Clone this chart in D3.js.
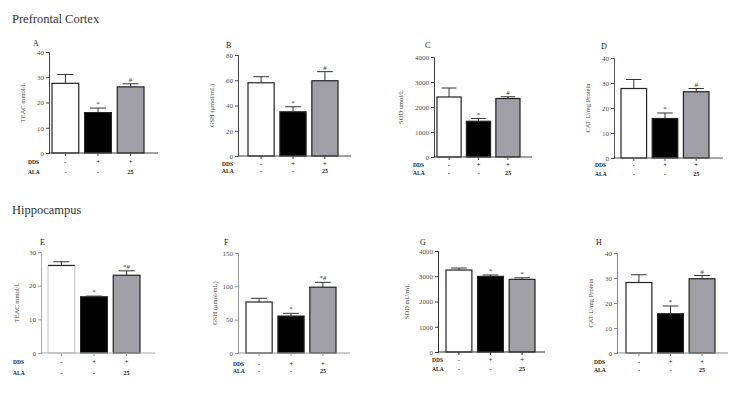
<!DOCTYPE html>
<html>
<head>
<meta charset="utf-8">
<script src="https://d3js.org/d3.v7.min.js"></script>
<style>
  body { margin: 0; background: #fff; }
  svg text { font-family: "Liberation Serif", "Times New Roman", "DejaVu Serif", serif; }
</style>
</head>
<body>
<script>
// groups and treatment rows
var groups = ["Control", "DDS", "DDS+ALA"];
var ddsRow = ["-", "+", "+"];
var alaRow = ["-", "-", "25"];

// Prefrontal cortex (mean, SEM)
var teacPFC = [27.6, 16.0, 26.2];   var teacPFCsem = [3.5, 1.8, 1.2];
var gshPFC  = [58.0, 35.0, 59.6];   var gshPFCsem  = [4.8, 4.0, 7.2];
var sodPFC  = [2400, 1430, 2340];   var sodPFCsem  = [360, 110, 70];
var catPFC  = [27.8, 15.8, 26.5];   var catPFCsem  = [3.6, 2.2, 1.3];
// Hippocampus
var teacHip = [26.0, 16.7, 23.1];   var teacHipsem = [1.1, 0.2, 1.3];
var gshHip  = [76.5, 55.4, 98.7];   var gshHipsem  = [5.5, 4.1, 7.3];
var sodHip  = [3245, 2995, 2876];   var sodHipsem  = [80, 55, 64];
var catHip  = [28.2, 15.7, 29.7];   var catHipsem  = [3.1, 3.1, 1.3];

// significance marks
var marksA = ["", "*", "#"];
var marksE = ["", "*", "*#"];
var marksG = ["", "*", "*"];

var yLabels = ["TEAC mmol/L", "GSH (μmol/mL)", "SOD umol/L", "CAT U/mg Protein",
               "TEAC mmol/L", "GSH (μmol/mL)", "SOD mU/mL", "CAT U/mg Protein"];
var letters = ["A", "B", "C", "D", "E", "F", "G", "H"];
var yMax = [40, 80, 4000, 40, 30, 150, 4000, 40];
var yStep = [10, 20, 1000, 10, 10, 50, 1000, 10];

var barFill = ["#ffffff", "#000000", "#a09fa5"];

var svg = d3.select("body").append("svg")
  .attr("width", 750).attr("height", 393);
svg.append("rect").attr("width", 750).attr("height", 393).attr("fill", "#fff");

svg.append("text").attr("x", 12).attr("y", 23).attr("font-size", 12.5).attr("fill", "#333")
  .attr("font-family", "Liberation Serif, serif").text("Prefrontal Cortex");
svg.append("text").attr("x", 12).attr("y", 214).attr("font-size", 12.5).attr("fill", "#333")
  .attr("font-family", "Liberation Serif, serif").text("Hippocampus");

// layout per panel: axis x, top/bottom of y axis, bar band, x-axis end, letter pos, row pos, label offset, axis colour
var layout = [
  {ax: 49,  top: 52,  bot: 153, b0: 52,  b1: 144, end: 158, lx: 33,  ly: 46,  rx: 28,  r1: 164, r2: 174, yl: 24, col: "#444"},
  {ax: 238, top: 55,  bot: 156, b0: 248, b1: 338, end: 351, lx: 226, ly: 48,  rx: 222, r1: 166, r2: 173, yl: 24, col: "#444"},
  {ax: 434, top: 57,  bot: 157, b0: 437, b1: 520, end: 532, lx: 425, ly: 48,  rx: 413, r1: 167, r2: 175, yl: 31, col: "#444"},
  {ax: 614, top: 58,  bot: 158, b0: 621, b1: 709, end: 723, lx: 601, ly: 49,  rx: 595, r1: 167, r2: 176, yl: 24, col: "#555"},
  {ax: 41,  top: 252, bot: 353, b0: 48,  b1: 140, end: 155, lx: 40,  ly: 245, rx: 13,  r1: 364, r2: 375, yl: 22, col: "#aaa"},
  {ax: 238, top: 253, bot: 353, b0: 246, b1: 336, end: 350, lx: 224, ly: 245, rx: 233, r1: 366, r2: 373, yl: 21, col: "#999"},
  {ax: 438, top: 251, bot: 352, b0: 446, b1: 535, end: 545, lx: 420, ly: 245, rx: 432, r1: 362, r2: 371, yl: 29, col: "#333"},
  {ax: 617, top: 253, bot: 353, b0: 626, b1: 715, end: 728, lx: 596, ly: 245, rx: 594, r1: 364, r2: 372, yl: 24, col: "#888"}
];

var panels = [
  {v: teacPFC, s: teacPFCsem, m: marksA},
  {v: gshPFC,  s: gshPFCsem,  m: marksA},
  {v: sodPFC,  s: sodPFCsem,  m: marksA},
  {v: catPFC,  s: catPFCsem,  m: marksA},
  {v: teacHip, s: teacHipsem, m: marksE},
  {v: gshHip,  s: gshHipsem,  m: marksE},
  {v: sodHip,  s: sodHipsem,  m: marksG},
  {v: catHip,  s: catHipsem,  m: marksA}
];

panels.forEach(function(p, i) {
  var L = layout[i];
  var g = svg.append("g");
  var y = d3.scaleLinear().domain([0, yMax[i]]).range([L.bot, L.top]);
  var x = d3.scaleBand().domain(groups).range([L.b0, L.b1]).paddingInner(0.18).paddingOuter(0);
  var bw = x.bandwidth();

  // bars
  g.selectAll(".bar").data(groups).enter().append("rect")
    .attr("x", function(d) { return x(d); })
    .attr("y", function(d, k) { return y(p.v[k]); })
    .attr("width", bw)
    .attr("height", function(d, k) { return L.bot - y(p.v[k]); })
    .attr("fill", function(d, k) { return barFill[k]; })
    .attr("stroke", function(d, k) { return (i == 4 && k == 0) ? "#ccc" : "#222"; })
    .attr("stroke-width", 1.2);
  if (i == 4) {
    g.append("line").attr("x1", x(groups[0])).attr("x2", x(groups[0]) + bw)
      .attr("y1", y(p.v[0])).attr("y2", y(p.v[0])).attr("stroke", "#222").attr("stroke-width", 1.2);
  }

  // error bars (upper only)
  groups.forEach(function(d, k) {
    var cx = x(d) + bw / 2;
    var t = y(p.v[k] + p.s[k]);
    g.append("line").attr("x1", cx).attr("x2", cx).attr("y1", y(p.v[k])).attr("y2", t)
      .attr("stroke", "#333").attr("stroke-width", 1);
    g.append("line").attr("x1", cx - bw * 0.3).attr("x2", cx + bw * 0.3).attr("y1", t).attr("y2", t)
      .attr("stroke", "#333").attr("stroke-width", 1);
    if (p.m[k]) {
      g.append("text").attr("x", cx).attr("y", t - 2).attr("text-anchor", "middle")
        .attr("font-size", 7).attr("fill", "#333").text(p.m[k]);
    }
  });

  // y axis
  var yAxis = d3.axisLeft(y).tickValues(d3.range(0, yMax[i] + 1, yStep[i])).tickSize(3).tickPadding(2)
    .tickFormat(d3.format("d"));
  var ya = g.append("g").attr("transform", "translate(" + L.ax + ",0)").call(yAxis);
  ya.select(".domain").attr("stroke", L.col);
  ya.selectAll(".tick line").attr("stroke", L.col);
  ya.selectAll(".tick text").attr("font-size", 7).attr("fill", "#555")
    .style("font-family", "Liberation Serif, serif");

  // x axis line and ticks
  g.append("line").attr("x1", L.ax).attr("x2", L.end).attr("y1", L.bot).attr("y2", L.bot)
    .attr("stroke", L.col).attr("stroke-width", 1.2);
  groups.forEach(function(d) {
    var cx = x(d) + bw / 2;
    g.append("line").attr("x1", cx).attr("x2", cx).attr("y1", L.bot).attr("y2", L.bot + 3)
      .attr("stroke", L.col).attr("stroke-width", 1);
  });

  // y label
  var my = (L.top + L.bot) / 2;
  g.append("text").attr("transform", "translate(" + (L.ax - L.yl) + "," + my + ") rotate(-90)")
    .attr("text-anchor", "middle").attr("font-size", 6.5).attr("fill", "#444").text(yLabels[i]);

  // panel letter
  g.append("text").attr("x", L.lx).attr("y", L.ly).attr("font-size", 8).attr("fill", "#222")
    .text(letters[i]);

  // treatment rows
  g.append("text").attr("x", L.rx).attr("y", L.r1).attr("font-size", 5.5).attr("font-weight", "bold")
    .attr("fill", "#222").text("DDS");
  g.append("text").attr("x", L.rx).attr("y", L.r2).attr("font-size", 5.5).attr("font-weight", "bold")
    .attr("fill", "#222").text("ALA");
  groups.forEach(function(d, k) {
    var cx = x(d) + bw / 2;
    g.append("text").attr("x", cx).attr("y", L.r1).attr("text-anchor", "middle")
      .attr("font-size", 6.5).attr("font-weight", "bold").attr("fill", "#222").text(ddsRow[k]);
    g.append("text").attr("x", cx).attr("y", L.r2).attr("text-anchor", "middle")
      .attr("font-size", 6).attr("font-weight", "bold").attr("fill", "#222").text(alaRow[k]);
  });
});
</script>
</body>
</html>
